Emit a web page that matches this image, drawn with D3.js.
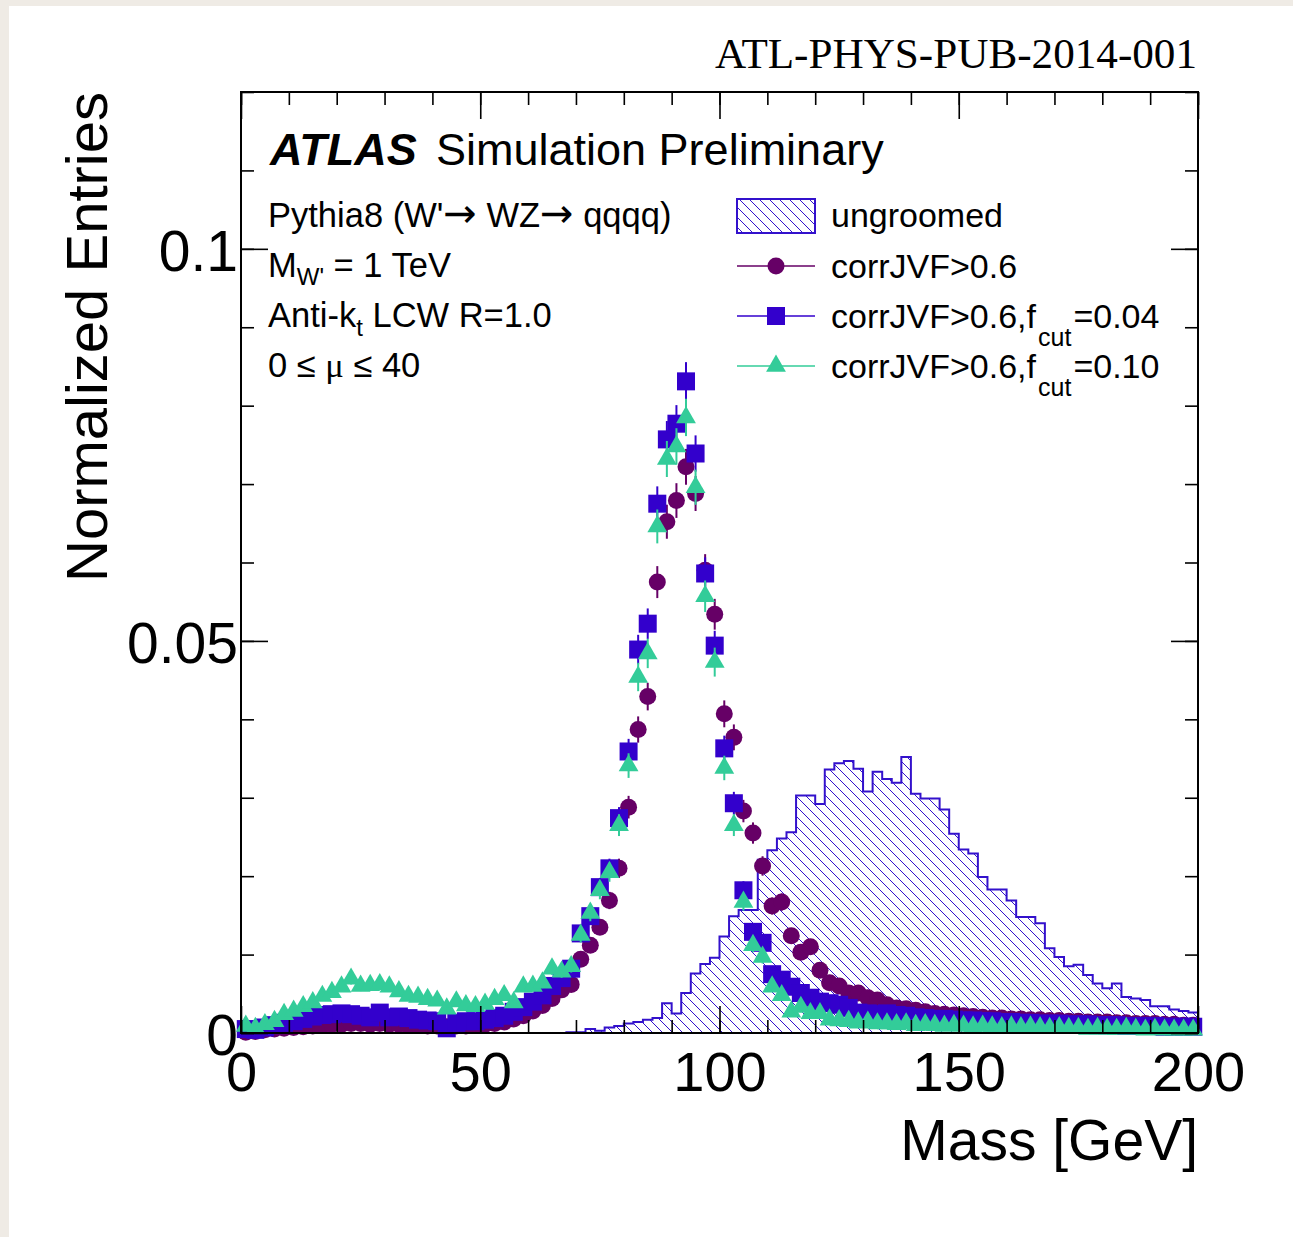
<!DOCTYPE html>
<html>
<head>
<meta charset="utf-8">
<script src="https://cdn.jsdelivr.net/npm/d3@7"></script>
<style>
  body { margin: 0; background: #fff; }
  text { font-family: "Liberation Sans", Arial, Helvetica, sans-serif; fill: #000; }
</style>
</head>
<body>
<div class="vis"></div>
<script>
// bin edges of the mass histogram (2 GeV bins from 0 to 200 GeV)
const massEdges = d3.range(0, 202, 2);
const binCenters = d3.range(1, 200, 2);

// ungroomed jets, one value per 2 GeV bin
const ungroomed = [
  0, 0, 0, 0, 0, 0, 0, 0, 0, 0,
  0, 0, 0, 0, 0, 0, 0, 0, 0, 0,
  0, 0, 0, 0, 0, 0, 0, 0, 0, 0,
  0, 0, 0, 0, 0.0001, 0.0001, 0.0005, 0.0003, 0.0007, 0.0009,
  0.0012, 0.0014, 0.0017, 0.0019, 0.0038, 0.0025, 0.0051, 0.0076, 0.0088, 0.0096,
  0.0123, 0.0149, 0.0157, 0.0157, 0.0221, 0.0233, 0.0248, 0.0256, 0.0303, 0.0303,
  0.0292, 0.0336, 0.0344, 0.0347, 0.0337, 0.0308, 0.0333, 0.0324, 0.0319, 0.0352,
  0.0305, 0.0299, 0.0299, 0.0285, 0.0254, 0.0234, 0.0229, 0.0199, 0.0183, 0.0183,
  0.0169, 0.0148, 0.0148, 0.0140, 0.0108, 0.0097, 0.0085, 0.0087, 0.0074, 0.0063,
  0.0057, 0.0063, 0.0046, 0.0044, 0.0042, 0.0034, 0.0034, 0.0030, 0.0028, 0.0026
];

// corrJVF>0.6
const corrJVF = [
  0.0001, 0.0002, 0.0004, 0.0005, 0.0006, 0.0007, 0.0008, 0.0009, 0.0010, 0.0011,
  0.0011, 0.0012, 0.0012, 0.0011, 0.0012, 0.0011, 0.0011, 0.0010, 0.0010, 0.0009,
  0.0009, 0.0008, 0.0009, 0.0009, 0.0010, 0.0011, 0.0012, 0.0014, 0.0018, 0.0022,
  0.0028, 0.0035, 0.0044, 0.0055, 0.0062, 0.0094, 0.0112, 0.0135, 0.0169, 0.0210,
  0.0288, 0.0387, 0.0429, 0.0575, 0.0652, 0.0679, 0.0722, 0.0688, 0.0590, 0.0534,
  0.0407, 0.0377, 0.0283, 0.0255, 0.0213, 0.0162, 0.0167, 0.0124, 0.0103, 0.0110,
  0.0080, 0.0064, 0.0060, 0.0051, 0.0051, 0.0045, 0.0042, 0.0036, 0.0032, 0.0031,
  0.0029, 0.0027, 0.0025, 0.0024, 0.0023, 0.0022, 0.0021, 0.0020, 0.0019, 0.0019,
  0.0018, 0.0018, 0.0017, 0.0017, 0.0016, 0.0016, 0.0015, 0.0015, 0.0014, 0.0014,
  0.0014, 0.0013, 0.0013, 0.0012, 0.0012, 0.0012, 0.0011, 0.0011, 0.0010, 0.0010
];

// corrJVF>0.6, fcut=0.04
const fcut004 = [
  0.0005, 0.0004, 0.0007, 0.0010, 0.0013, 0.0015, 0.0018, 0.0021, 0.0023, 0.0024,
  0.0025, 0.0024, 0.0022, 0.0020, 0.0026, 0.0020, 0.0021, 0.0019, 0.0017, 0.0016,
  0.0015, 0.0006, 0.0013, 0.0015, 0.0015, 0.0017, 0.0019, 0.0022, 0.0027, 0.0033,
  0.0040, 0.0048, 0.0060, 0.0070, 0.0082, 0.0127, 0.0149, 0.0186, 0.0210, 0.0274,
  0.0359, 0.0489, 0.0522, 0.0675, 0.0757, 0.0777, 0.0831, 0.0739, 0.0586, 0.0494,
  0.0363, 0.0293, 0.0182, 0.0129, 0.0115, 0.0075, 0.0068, 0.0059, 0.0051, 0.0045,
  0.0040, 0.0038, 0.0036, 0.0032, 0.0026, 0.0025, 0.0024, 0.0025, 0.0023, 0.0022,
  0.0020, 0.0019, 0.0018, 0.0018, 0.0017, 0.0016, 0.0016, 0.0015, 0.0015, 0.0014,
  0.0014, 0.0013, 0.0013, 0.0012, 0.0012, 0.0012, 0.0011, 0.0011, 0.0011, 0.0010,
  0.0010, 0.0010, 0.0009, 0.0009, 0.0009, 0.0009, 0.0008, 0.0008, 0.0008, 0.0008
];

// corrJVF>0.6, fcut=0.10
const fcut010 = [
  0.0009, 0.0006, 0.0011, 0.0015, 0.0024, 0.0028, 0.0034, 0.0039, 0.0047, 0.0052,
  0.0059, 0.0069, 0.0060, 0.0061, 0.0062, 0.0059, 0.0053, 0.0047, 0.0046, 0.0043,
  0.0041, 0.0031, 0.0040, 0.0035, 0.0034, 0.0037, 0.0043, 0.0048, 0.0039, 0.0059,
  0.0060, 0.0064, 0.0082, 0.0078, 0.0085, 0.0125, 0.0153, 0.0182, 0.0205, 0.0265,
  0.0341, 0.0454, 0.0484, 0.0646, 0.0732, 0.0748, 0.0785, 0.0696, 0.0557, 0.0473,
  0.0338, 0.0265, 0.0167, 0.0112, 0.0097, 0.0059, 0.0048, 0.0027, 0.0033, 0.0025,
  0.0025, 0.0017, 0.0016, 0.0015, 0.0013, 0.0014, 0.0012, 0.0012, 0.0011, 0.0012,
  0.0010, 0.0011, 0.0010, 0.0009, 0.0010, 0.0009, 0.0008, 0.0009, 0.0008, 0.0007,
  0.0008, 0.0007, 0.0008, 0.0007, 0.0006, 0.0007, 0.0006, 0.0006, 0.0005, 0.0006,
  0.0005, 0.0005, 0.0006, 0.0005, 0.0004, 0.0005, 0.0004, 0.0004, 0.0004, 0.0004
];

const xMajorTicks = [0, 50, 100, 150, 200];
const yMajorTicks = [0, 0.05, 0.1];

const width = 1293, height = 1237;
const frame = { left: 241, right: 1198, top: 92, bottom: 1033 };

const svg = d3.select('.vis')
    .append('svg')
    .attr('width', width)
    .attr('height', height);

// paper background
svg.append('rect').attr('width', width).attr('height', height).attr('fill', '#efebe5');
svg.append('rect').attr('x', 9).attr('y', 6).attr('width', width - 9).attr('height', height - 6).attr('fill', '#fff');

const x = d3.scaleLinear().domain([0, 200]).range([frame.left, frame.right]);
const y = d3.scaleLinear().domain([0, 0.12]).range([frame.bottom, frame.top]);

const hatchColor = '#3311cc';
const defs = svg.append('defs');
const pat = defs.append('pattern')
    .attr('id', 'hatch')
    .attr('patternUnits', 'userSpaceOnUse')
    .attr('width', 10).attr('height', 10);
pat.append('path')
    .attr('d', 'M0,0L10,10M-1,9L1,11M9,-1L11,1')
    .attr('stroke', hatchColor)
    .attr('stroke-width', 1);

// ungroomed histogram
const histPts = ungroomed.map((v, i) => ({ m: massEdges[i], v: v }));
histPts.push({ m: 200, v: ungroomed[ungroomed.length - 1] });

svg.append('path')
    .datum(histPts)
    .attr('fill', 'url(#hatch)')
    .attr('d', d3.area().curve(d3.curveStepAfter).x(d => x(d.m)).y0(y(0)).y1(d => y(d.v)));

svg.append('path')
    .datum(histPts)
    .attr('fill', 'none')
    .attr('stroke', hatchColor)
    .attr('stroke-width', 2)
    .attr('d', d3.line().curve(d3.curveStepAfter).x(d => x(d.m)).y(d => y(d.v)));

// statistical uncertainty of the normalised points
const statErr = v => 0.0085 * Math.sqrt(v);

const series = [
    { name: 'corrJVF', values: corrJVF, color: '#660066', marker: 'circle' },
    { name: 'fcut004', values: fcut004, color: '#3300cc', marker: 'square' },
    { name: 'fcut010', values: fcut010, color: '#33cc99', marker: 'triangle' }
];

function drawMarker(sel, marker, color) {
    if (marker === 'circle') {
        sel.append('circle').attr('r', 8.5).attr('fill', color);
    } else if (marker === 'square') {
        sel.append('rect').attr('x', -9).attr('y', -9).attr('width', 18).attr('height', 18).attr('fill', color);
    } else {
        sel.append('path').attr('d', d3.symbol(d3.symbolTriangle, 170)()).attr('fill', color);
    }
}

series.forEach(s => {
    const pts = s.values.map((v, i) => ({ m: binCenters[i], v: v }));
    const g = svg.append('g');
    g.selectAll('line')
        .data(pts)
        .join('line')
        .attr('x1', d => x(d.m)).attr('x2', d => x(d.m))
        .attr('y1', d => y(d.v - statErr(d.v)))
        .attr('y2', d => y(d.v + statErr(d.v)))
        .attr('stroke', s.color)
        .attr('stroke-width', 2);
    g.selectAll('g.pt')
        .data(pts)
        .join('g')
        .attr('class', 'pt')
        .attr('transform', d => `translate(${x(d.m)},${y(d.v)})`)
        .each(function () { drawMarker(d3.select(this), s.marker, s.color); });
});

// axes
function styleAxis(g, fontSize) {
    g.select('.domain').remove();
    g.selectAll('.tick line').attr('stroke', '#000').attr('stroke-width', 1.6);
    g.selectAll('.tick text')
        .style('font-family', '"Liberation Sans", Arial, sans-serif')
        .style('font-size', fontSize + 'px')
        .attr('fill', '#000');
}

svg.append('g').attr('transform', `translate(0,${frame.bottom})`)
    .call(d3.axisBottom(x).tickValues(d3.range(0, 201, 10)).tickSize(-13).tickFormat(''))
    .call(g => styleAxis(g, 56));
svg.append('g').attr('transform', `translate(0,${frame.bottom})`)
    .call(d3.axisBottom(x).tickValues(xMajorTicks).tickSize(-27).tickPadding(18).tickFormat(d3.format('d')))
    .call(g => styleAxis(g, 56));
svg.append('g').attr('transform', `translate(0,${frame.top})`)
    .call(d3.axisTop(x).tickValues(d3.range(0, 201, 10)).tickSize(-13).tickFormat(''))
    .call(g => styleAxis(g, 56));
svg.append('g').attr('transform', `translate(0,${frame.top})`)
    .call(d3.axisTop(x).tickValues(xMajorTicks).tickSize(-27).tickFormat(''))
    .call(g => styleAxis(g, 56));

svg.append('g').attr('transform', `translate(${frame.left},0)`)
    .call(d3.axisLeft(y).tickValues(d3.range(0, 0.1205, 0.01)).tickSize(-13).tickFormat(''))
    .call(g => styleAxis(g, 56));
svg.append('g').attr('transform', `translate(${frame.left},0)`)
    .call(d3.axisLeft(y).tickValues(yMajorTicks).tickSize(-27).tickPadding(3).tickFormat(d3.format('.2~f')))
    .call(g => styleAxis(g, 57))
    .call(g => g.selectAll('.tick text').attr('dy', '0.38em'));
svg.append('g').attr('transform', `translate(${frame.right},0)`)
    .call(d3.axisRight(y).tickValues(d3.range(0, 0.1205, 0.01)).tickSize(-13).tickFormat(''))
    .call(g => styleAxis(g, 56));
svg.append('g').attr('transform', `translate(${frame.right},0)`)
    .call(d3.axisRight(y).tickValues(yMajorTicks).tickSize(-27).tickFormat(''))
    .call(g => styleAxis(g, 56));

// frame
svg.append('rect')
    .attr('x', frame.left).attr('y', frame.top)
    .attr('width', frame.right - frame.left).attr('height', frame.bottom - frame.top)
    .attr('fill', 'none').attr('stroke', '#000').attr('stroke-width', 2);

// axis titles
svg.append('text')
    .attr('x', frame.right).attr('y', 1160)
    .attr('text-anchor', 'end')
    .style('font-size', '57px')
    .text('Mass [GeV]');

svg.append('text')
    .attr('transform', `translate(107,${frame.top}) rotate(-90)`)
    .attr('text-anchor', 'end')
    .style('font-size', '58px')
    .text('Normalized Entries');

// document reference
svg.append('text')
    .attr('x', 1197).attr('y', 68)
    .attr('text-anchor', 'end')
    .attr('textLength', 482)
    .attr('lengthAdjust', 'spacingAndGlyphs')
    .style('font-family', '"Liberation Serif", "Times New Roman", serif')
    .style('font-size', '43px')
    .attr('fill', '#222')
    .text('ATL-PHYS-PUB-2014-001');

// ATLAS label
const atlas = svg.append('text').attr('x', 270).attr('y', 165).style('font-size', '45px');
atlas.append('tspan').style('font-weight', 'bold').style('font-style', 'italic').text('ATLAS');
atlas.append('tspan').attr('x', 436).text('Simulation Preliminary');

// sample description
const infoSize = 34.5;
const arrowFont = '"DejaVu Sans", sans-serif';
const pLine = svg.append('text').attr('x', 268).attr('y', 227).style('font-size', infoSize + 'px');
pLine.append('tspan').text("Pythia8 (W'");
pLine.append('tspan').style('font-family', arrowFont).style('font-size', '40px').text('\u2192');
pLine.append('tspan').text(' WZ');
pLine.append('tspan').style('font-family', arrowFont).style('font-size', '40px').text('\u2192');
pLine.append('tspan').text(' qqqq)');
const mLine = svg.append('text').attr('x', 268).attr('y', 277).style('font-size', infoSize + 'px');
mLine.append('tspan').text('M');
mLine.append('tspan').attr('dy', 8).style('font-size', '24px').text("W'");
mLine.append('tspan').attr('dy', -8).text(' = 1 TeV');
const aLine = svg.append('text').attr('x', 268).attr('y', 327).style('font-size', infoSize + 'px');
aLine.append('tspan').text('Anti-k');
aLine.append('tspan').attr('dy', 9).style('font-size', '24px').text('t');
aLine.append('tspan').attr('dy', -9).text(' LCW R=1.0');
const muLine = svg.append('text').attr('x', 268).attr('y', 377).style('font-size', infoSize + 'px');
muLine.append('tspan').text('0 \u2264 ');
muLine.append('tspan').style('font-family', '"Liberation Serif", serif').text('\u03bc');
muLine.append('tspan').text(' \u2264 40');

// legend
const legX = 737, legW = 78, legText = 831;
svg.append('rect')
    .attr('x', legX).attr('y', 199).attr('width', legW).attr('height', 34)
    .attr('fill', 'url(#hatch)').attr('stroke', hatchColor).attr('stroke-width', 2);
svg.append('text').attr('x', legText).attr('y', 227).style('font-size', '34px').text('ungroomed');

const legendRows = [
    { s: series[0], y: 266, label: 'corrJVF>0.6', cut: null },
    { s: series[1], y: 316, label: 'corrJVF>0.6,f', cut: '=0.04' },
    { s: series[2], y: 366, label: 'corrJVF>0.6,f', cut: '=0.10' }
];
legendRows.forEach(r => {
    svg.append('line')
        .attr('x1', legX).attr('x2', legX + legW)
        .attr('y1', r.y).attr('y2', r.y)
        .attr('stroke', r.s.color).attr('stroke-width', 1.5);
    const mg = svg.append('g').attr('transform', `translate(${legX + legW / 2},${r.y})`);
    drawMarker(mg, r.s.marker, r.s.color);
    const t = svg.append('text').attr('x', legText).attr('y', r.y + 12).style('font-size', '34px');
    t.append('tspan').text(r.label);
    if (r.cut) {
        t.append('tspan').attr('dx', 2).attr('dy', 18).style('font-size', '25px').text('cut');
        t.append('tspan').attr('dx', 2).attr('dy', -18).text(r.cut);
    }
});
</script>
</body>
</html>
